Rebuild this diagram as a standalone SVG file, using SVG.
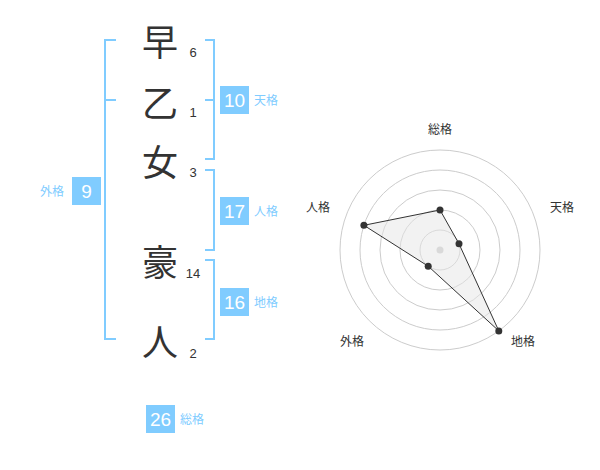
<svg xmlns="http://www.w3.org/2000/svg" width="600" height="470" viewBox="0 0 600 470">
<style>
.ch{font-family:"Noto Sans CJK JP","Noto Sans CJK SC",sans-serif;font-size:36px;fill:#333;text-anchor:middle;dominant-baseline:central}
.num{font-family:"Liberation Sans",Arial,sans-serif;font-size:13px;fill:#333;text-anchor:middle}
.br{fill:none;stroke:#80ccff;stroke-width:2}
.box{fill:#80ccff}
.bn{font-family:"Liberation Sans",Arial,sans-serif;font-size:19px;fill:#fff;text-anchor:middle}
.bl{font-family:"Noto Sans CJK JP","Noto Sans CJK SC",sans-serif;font-size:12px;fill:#80ccff}
.ring{fill:none;stroke:#ccc;stroke-width:1}
.rl{font-family:"Noto Sans CJK JP","Noto Sans CJK SC",sans-serif;font-size:12px;fill:#333;text-anchor:middle}
.dot{fill:#333}
</style>
<g id="connectors">
<path class="br" d="M116,40 H105 V339 H116 M105,100 H116"/>
<path class="br" d="M205,40 H214 V159 H205 M214,100 H205"/>
<path class="br" d="M205,170 H214 V250 H205"/>
<path class="br" d="M205,260 H214 V339 H205"/>
</g>
<g id="char1"><text class="ch" x="160" y="40">早</text><text class="num" x="193" y="57">6</text></g>
<g id="char2"><text class="ch" x="160" y="101">乙</text><text class="num" x="193" y="117">1</text></g>
<g id="char3"><text class="ch" x="160" y="160">女</text><text class="num" x="193" y="177">3</text></g>
<g id="char4"><text class="ch" x="160" y="260">豪</text><text class="num" x="193" y="278">14</text></g>
<g id="char5"><text class="ch" x="160" y="340">人</text><text class="num" x="193" y="358">2</text></g>
<g id="tenkaku"><rect class="box" x="220" y="86" width="29" height="28"/><text class="bn" x="234.5" y="107">10</text><text class="bl" x="254" y="105">天格</text></g>
<g id="jinkaku"><rect class="box" x="220" y="197" width="29" height="28"/><text class="bn" x="234.5" y="218">17</text><text class="bl" x="254" y="216">人格</text></g>
<g id="chikaku"><rect class="box" x="220" y="288" width="29" height="28"/><text class="bn" x="234.5" y="309">16</text><text class="bl" x="254" y="307">地格</text></g>
<g id="gaikaku"><rect class="box" x="72" y="177" width="29" height="28"/><text class="bn" x="86.5" y="198">9</text><text class="bl" x="40" y="196">外格</text></g>
<g id="soukaku"><rect class="box" x="146" y="405" width="29" height="28"/><text class="bn" x="160.5" y="426">26</text><text class="bl" x="180" y="424">総格</text></g>
<g id="radar">
<circle class="ring" cx="440" cy="250" r="20"/>
<circle class="ring" cx="440" cy="250" r="40"/>
<circle class="ring" cx="440" cy="250" r="60"/>
<circle class="ring" cx="440" cy="250" r="80"/>
<circle class="ring" cx="440" cy="250" r="100"/>
<circle cx="440" cy="250" r="3.5" fill="#ccc"/>
<polygon points="440,210 459,243.8 498.8,330.9 428.2,266.2 363.9,225.3" fill="#e6e6e6" fill-opacity="0.5" stroke="#333" stroke-width="1"/>
<circle class="dot" cx="440" cy="210" r="3.5"/>
<circle class="dot" cx="459" cy="243.8" r="3.5"/>
<circle class="dot" cx="498.8" cy="330.9" r="3.5"/>
<circle class="dot" cx="428.2" cy="266.2" r="3.5"/>
<circle class="dot" cx="363.9" cy="225.3" r="3.5"/>
<text class="rl" x="440" y="134">総格</text>
<text class="rl" x="562" y="212">天格</text>
<text class="rl" x="523" y="346">地格</text>
<text class="rl" x="352" y="346">外格</text>
<text class="rl" x="318" y="212">人格</text>
</g>
</svg>
